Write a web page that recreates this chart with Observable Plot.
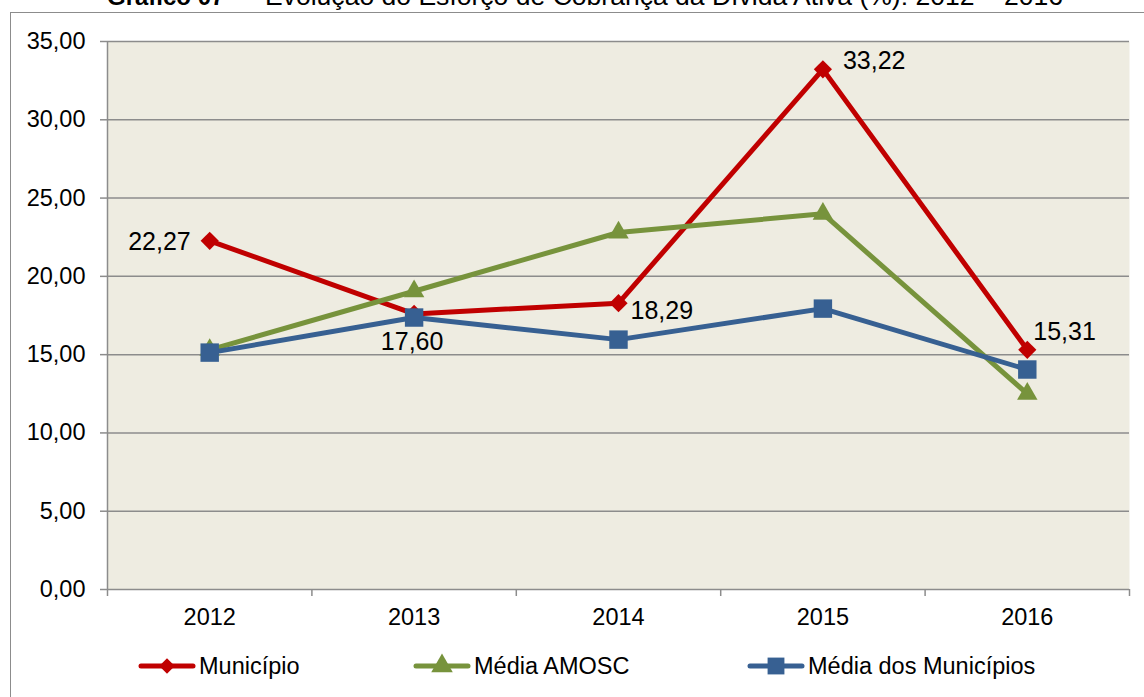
<!DOCTYPE html>
<html><head><meta charset="utf-8">
<script src="https://cdn.jsdelivr.net/npm/d3@7"></script>
<script src="https://cdn.jsdelivr.net/npm/@observablehq/plot@0.6"></script>
<style>
body{margin:0;background:#fff;font-family:"Liberation Sans",Arial,sans-serif;}
#wrap{position:relative;width:1144px;height:697px;overflow:hidden;background:#fff;}
#border{position:absolute;left:10px;top:12px;width:1200px;height:800px;border:1.5px solid #8c8c8c;box-sizing:border-box;}
#title{position:absolute;left:0;top:0;}
#chart{position:absolute;left:0;top:0;}
.leg{position:absolute;top:650px;height:32px;display:flex;align-items:center;font-size:23.5px;color:#000;white-space:nowrap;}
.leg svg{display:block;margin-right:3px;}
</style></head>
<body>
<div id="wrap">
  <div id="border"></div>
  <svg id="title" width="1144" height="14" font-family="Liberation Sans, Arial, sans-serif">
    <text x="107" y="5" font-size="24" font-weight="bold">Gráfico 07</text>
    <text x="233" y="5" font-size="26.5">–</text>
    <text x="265" y="5" font-size="26.5" textLength="798" lengthAdjust="spacingAndGlyphs">Evolução do Esforço de Cobrança da Dívida Ativa (%): 2012 – 2016</text>
  </svg>
  <div id="chart"></div>
  <div id="legend"></div>
</div>
<script>
// ---- data ----
const years = [2012, 2013, 2014, 2015, 2016];
const seriesNames = ["Município", "Média AMOSC", "Média dos Municípios"];
const municipio = [22.27, 17.60, 18.29, 33.22, 15.31];
const mediaAmosc = [15.30, 19.05, 22.80, 24.00, 12.50];
const mediaMunicipios = [15.13, 17.37, 15.96, 17.94, 14.05];
const yTicks = [0, 5, 10, 15, 20, 25, 30, 35];

// ---- styles ----
const colors = ["#C00000", "#77933C", "#376092"];
const symbols = ["diamond2", "triangle", "square"];
const radii = [8.2, 7.6, 10.4];
const gridColor = "#8C8C8C";
const font = "Liberation Sans, Arial, sans-serif";

const seriesValues = [municipio, mediaAmosc, mediaMunicipios];
const rows = [];
seriesNames.forEach((s, k) => years.forEach((year, i) => rows.push({series: s, year, value: seriesValues[k][i]})));

const fmt = d => d.toFixed(2).replace(".", ",");
const xDomain = [years[0] - 0.5, years[years.length - 1] + 0.5];
const boundaries = d3.range(xDomain[0], xDomain[1] + 0.01, 1);

const mun = rows.filter(d => d.series === seriesNames[0]);
const labelAt = (i, opts) => Plot.text([mun[i]], {x: "year", y: "value", text: d => fmt(d.value), fontSize: 25, fill: "#000", ...opts});

const chart = Plot.plot({
  width: 1144, height: 640,
  marginLeft: 107, marginRight: 15, marginTop: 41, marginBottom: 51,
  style: {fontFamily: font, background: "transparent", overflow: "visible"},
  x: {domain: xDomain, label: null},
  y: {domain: [0, 35], label: null},
  color: {domain: seriesNames, range: colors},
  marks: [
    Plot.frame({fill: "#EEECE1", stroke: "none"}),
    Plot.gridY(yTicks, {stroke: gridColor, strokeOpacity: 1, strokeWidth: 1.5}),
    Plot.ruleX([xDomain[0]], {stroke: gridColor, strokeWidth: 1.5}),
    Plot.axisY(yTicks, {tickSize: 7, tickPadding: 15, tickFormat: fmt, fontSize: 23.5, color: "#000", stroke: gridColor, strokeWidth: 1.5, label: null}),
    Plot.axisX(boundaries, {tickSize: 7, tickFormat: () => "", stroke: gridColor, strokeWidth: 1.5, label: null}),
    Plot.axisX(years, {tickSize: 0, tickPadding: 19, fontSize: 23.5, color: "#000", tickFormat: d => String(d), label: null}),
    Plot.line(rows, {x: "year", y: "value", z: "series", stroke: "series", strokeWidth: 5, strokeLinejoin: "round", strokeLinecap: "round"}),
    ...seriesNames.map((s, k) => Plot.dot(rows.filter(d => d.series === s), {x: "year", y: "value", symbol: symbols[k], r: radii[k], fill: colors[k], stroke: "none"})),
    labelAt(0, {textAnchor: "end", dx: -19, dy: 1}),
    labelAt(1, {textAnchor: "middle", dx: -2, dy: 28}),
    labelAt(2, {textAnchor: "start", dx: 12, dy: 8}),
    labelAt(3, {textAnchor: "start", dx: 20, dy: -8}),
    labelAt(4, {textAnchor: "start", dx: 6, dy: -18})
  ]
});
document.getElementById("chart").appendChild(chart);

// ---- legend ----
const legendLeft = [138, 413, 747];
const legendSizes = [7, 8, 9.5];
const legend = document.getElementById("legend");
seriesNames.forEach((s, k) => {
  const item = document.createElement("div");
  item.className = "leg";
  item.style.left = legendLeft[k] + "px";
  const sym = Plot.symbol ? null : null;
  const sv = d3.create("svg").attr("width", 58).attr("height", 32);
  sv.append("line").attr("x1", 3).attr("x2", 55).attr("y1", 16).attr("y2", 16)
    .attr("stroke", colors[k]).attr("stroke-width", 5).attr("stroke-linecap", "round");
  const dsym = [d3.symbolDiamond2, d3.symbolTriangle, d3.symbolSquare][k];
  sv.append("path").attr("transform", "translate(29,16)")
    .attr("d", d3.symbol(dsym, Math.PI * legendSizes[k] * legendSizes[k])())
    .attr("fill", colors[k]);
  item.appendChild(sv.node());
  const t = document.createElement("span");
  t.textContent = s;
  item.appendChild(t);
  legend.appendChild(item);
});
</script>
</body></html>
